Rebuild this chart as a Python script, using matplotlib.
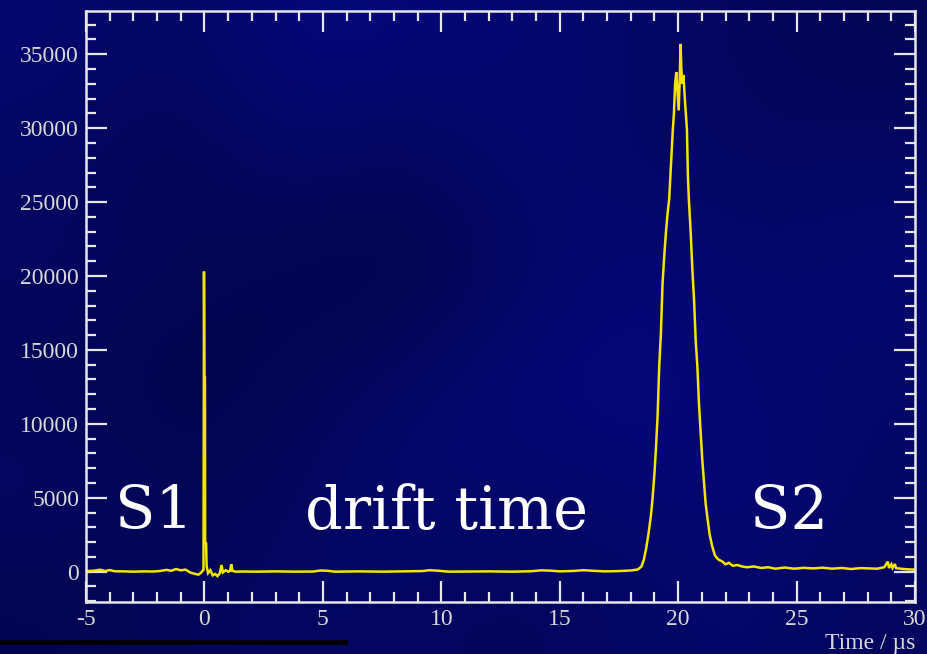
import numpy as np
import matplotlib
matplotlib.use("Agg")
import matplotlib.pyplot as plt
from matplotlib.ticker import MultipleLocator, FixedLocator
from matplotlib.lines import Line2D

plt.rcParams["axes.unicode_minus"] = False

# ---------------- data ----------------
time_us = [
    -5.0, -4.7, -4.4, -4.2, -4.0, -3.8, -3.4, -3.0, -2.6, -2.2, -1.9, -1.6, -1.4, -1.2, -1.0,
    -0.8, -0.6, -0.4, -0.25, -0.15, -0.08,
    -0.04, -0.02, 0.0, 0.02, 0.03, 0.07, 0.09, 0.15, 0.25, 0.35, 0.45, 0.55, 0.65, 0.72, 0.78,
    0.9, 1.0, 1.08, 1.13, 1.18, 1.3,
    1.6, 2.2, 3.0, 3.8, 4.6, 4.9, 5.2, 5.5, 6.5, 7.5, 8.5, 9.2, 9.5, 9.9, 10.3, 11.0, 12.0,
    13.0, 13.8, 14.2, 14.6, 15.0, 15.6, 16.0, 16.4, 16.9, 17.5, 18.0, 18.3,
    18.45, 18.55, 18.65, 18.75, 18.85, 18.92, 19.0, 19.06, 19.13, 19.2, 19.27, 19.34,
    19.41, 19.48, 19.55, 19.62, 19.7, 19.77, 19.82, 19.87, 19.92, 19.97, 20.02, 20.06, 20.1,
    20.13, 20.17, 20.22, 20.28, 20.33, 20.37, 20.41, 20.45, 20.53, 20.6, 20.67, 20.74, 20.81,
    20.88, 20.95, 21.02, 21.09, 21.16, 21.23, 21.33, 21.44, 21.55, 21.65, 21.72, 21.85, 22.0,
    22.14, 22.3, 22.5, 22.7, 22.9, 23.2, 23.5, 23.8, 24.1, 24.5, 24.9, 25.3, 25.7, 26.1, 26.5,
    26.9, 27.3, 27.7, 28.1, 28.4, 28.7, 28.85, 28.9, 29.0, 29.05, 29.15, 29.2, 29.5, 29.8, 30.0,
]
amplitude = [
    40, 60, 130, 40, 110, 30, 20, 0, 20, 10, 40, 120, 60, 180, 90,
    140, -60, -150, -200, -80, 60,
    120, 20300, 13100, 13100, 1900, 1900, 400, -100, 100, -250, -150, -300, -100, 450, -50,
    100, 0, 50, 500, 60, 0,
    10, 0, 20, 0, 10, 80, 60, 0, 20, 0, 20, 40, 100, 60, 0, 10, 20,
    0, 30, 90, 70, 20, 50, 100, 60, 20, 40, 80, 150,
    350, 800, 1600, 2600, 3800, 5000, 6700, 8300, 10500, 13900, 16100, 19500,
    21300, 22900, 24200, 25200, 27600, 29800, 31000, 33000, 33800, 32500, 31200, 33000, 35700,
    34200, 33000, 33600, 32000, 30800, 29900, 26800, 25200, 22900, 20400, 18400, 15600, 13900,
    11300, 9400, 7500, 6000, 4600, 3700, 2500, 1700, 1100, 900, 800, 700, 500,
    600, 400, 450, 350, 300, 350, 250, 300, 200, 280, 200, 260, 220, 270, 200,
    250, 180, 240, 220, 200, 300, 680, 250, 500, 250, 520, 240, 180, 150, 140,
]

x_ticks = [-5, 0, 5, 10, 15, 20, 25, 30]
y_ticks = [0, 5000, 10000, 15000, 20000, 25000, 30000, 35000]
x_label = "Time / µs"
annot_texts = ["S1", "drift time", "S2"]
annot_t = [-2.11, 10.24, 24.66]
annot_y = [2900, 2900, 2900]

# decorative mottled background brightness (blue channel, 0-255)
bg_blue = [
    [110, 96, 122, 118, 112, 104, 90, 84],
    [98, 80, 104, 88, 112, 102, 96, 100],
    [96, 88, 76, 72, 100, 118, 106, 112],
    [88, 72, 84, 100, 118, 124, 110, 104],
    [100, 84, 92, 112, 106, 112, 118, 100],
    [80, 88, 100, 96, 90, 100, 106, 94],
]

# ---------------- figure ----------------
fig = plt.figure(figsize=(9.27, 6.54), dpi=100)
fig.patch.set_facecolor("#060a6a")

bgax = fig.add_axes([0, 0, 1, 1], zorder=-10)
b = np.array(bg_blue, dtype=float) / 255.0
img = np.dstack([b * 0.04, b * 0.06, b])
bgax.imshow(img, aspect="auto", interpolation="bicubic", extent=[0, 1, 0, 1])
bgax.set_axis_off()

ax = fig.add_axes([0.0928, 0.0800, 0.8943, 0.9037])
ax.patch.set_alpha(0)

ax.plot(time_us, amplitude, color="#f2e600", lw=1.8, solid_joinstyle="miter")

ax.set_xlim(-5, 30)
ax.set_ylim(-2030, 37950)

ax.xaxis.set_major_locator(FixedLocator(x_ticks))
ax.yaxis.set_major_locator(FixedLocator(y_ticks))
ax.xaxis.set_minor_locator(MultipleLocator(1))
ax.yaxis.set_minor_locator(MultipleLocator(1000))

axis_col = "#e6e6e6"
for s in ax.spines.values():
    s.set_color(axis_col)
    s.set_linewidth(1.8)

ax.tick_params(which="both", direction="in", top=True, right=True,
               color=axis_col, labelcolor="#d8d8d8", width=1.6)
ax.tick_params(which="major", length=15, labelsize=17, pad=5)
ax.tick_params(which="minor", length=7.5)

for lab in ax.get_xticklabels() + ax.get_yticklabels():
    lab.set_fontfamily("Liberation Serif")

for txt, t, y in zip(annot_texts, annot_t, annot_y):
    ax.text(t, y, txt, color="white", fontsize=42.5, family="DejaVu Serif",
            ha="center", va="baseline")

fig.text(0.987, 0.0168, x_label, color="#d8d8d8", fontsize=17,
         family="Liberation Serif", ha="right", va="center")

# dark scribble line at bottom left
fig.add_artist(Line2D([0.0, 0.372], [0.0188, 0.0188], color="black", lw=3.5,
                      transform=fig.transFigure))

fig.savefig("out.png", dpi=100, facecolor=fig.get_facecolor())
